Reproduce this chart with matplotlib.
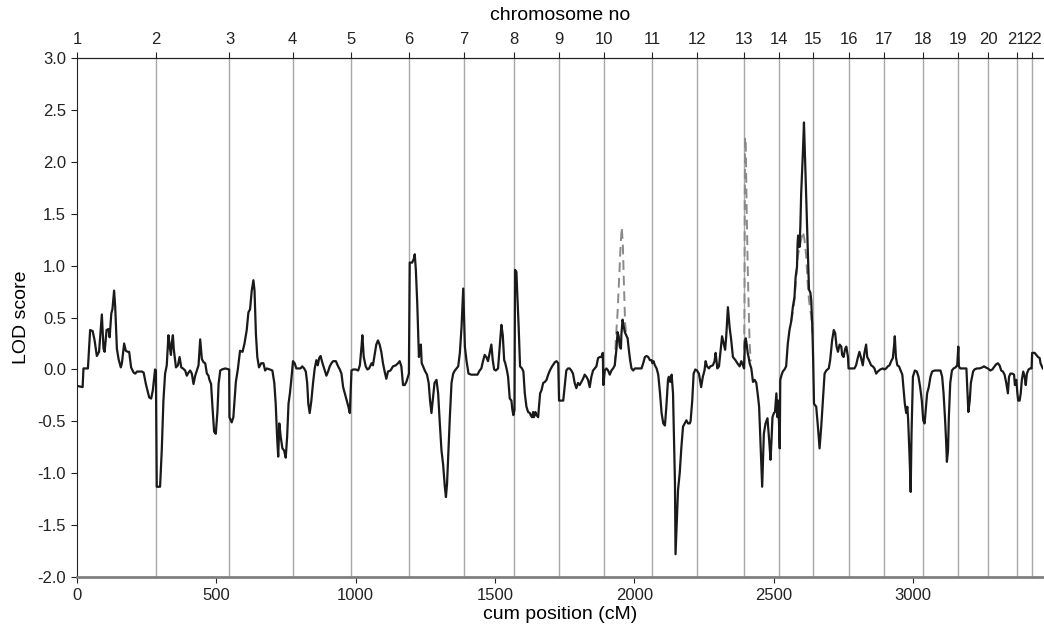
import matplotlib
matplotlib.use("Agg")
import matplotlib.pyplot as plt
import numpy as np
from matplotlib.ticker import FormatStrFormatter

plt.rcParams['font.family'] = ['Liberation Sans', 'DejaVu Sans']
plt.rcParams['axes.unicode_minus'] = False

chrom_labels = [str(i) for i in range(1, 23)]
chrom_starts = [0, 284, 547, 774, 982, 1192, 1388, 1569, 1729, 1890, 2064,
                2224, 2393, 2521, 2643, 2769, 2895, 3037, 3163, 3271, 3372, 3429]

pos_cm = [3, 20, 23, 39, 47, 56, 63, 71, 79, 89, 95, 99, 106, 113, 117, 123, 127, 133, 137, 143,
          149, 157, 161, 169, 175, 182, 187, 194, 203, 209, 215, 233, 239, 247, 259, 266, 272, 280, 283, 286,
          298, 304, 310, 316, 322, 328, 332, 337, 340, 344, 347, 355, 362, 368, 374, 380, 388, 394, 400, 406,
          412, 418, 424, 430, 436, 442, 448, 454, 460, 466, 472, 474, 481, 486, 492, 498, 504, 508, 514, 520,
          532, 546, 547, 555, 561, 570, 577, 585, 594, 601, 609, 615, 621, 627, 633, 637, 642, 647, 653, 661,
          669, 675, 681, 692,
          701, 708, 713, 718, 722, 726, 731, 737, 743, 749, 754, 759, 764, 769, 775, 781, 787, 802, 808, 815,
          821, 826, 830, 835, 841, 847, 853, 859, 864, 869, 874, 881, 889, 895, 901, 907, 913, 919, 929, 937,
          943, 949, 955, 961, 967, 974, 979, 985, 991, 1000, 1009, 1015, 1021, 1024, 1029, 1036, 1042, 1048,
          1057, 1062, 1068, 1074, 1080, 1086, 1092, 1098, 1104, 1110, 1116, 1125, 1134, 1144, 1152, 1158,
          1164, 1170, 1176, 1182, 1191, 1194, 1203, 1206, 1209, 1212, 1216, 1221, 1227, 1230, 1234, 1237,
          1242, 1248, 1256, 1262, 1267, 1272, 1278, 1283, 1290, 1296, 1302, 1308, 1314, 1320, 1324, 1328,
          1332, 1338, 1344, 1350, 1356, 1362, 1368, 1374, 1380, 1386, 1389, 1392, 1398, 1405,
          1415, 1427, 1437, 1445, 1451, 1457, 1463, 1469, 1475, 1481, 1487, 1492, 1497, 1503, 1511, 1517,
          1523, 1528, 1533, 1537, 1543, 1547, 1553, 1559, 1562, 1566, 1570, 1572, 1577, 1580, 1585, 1590,
          1597, 1602, 1607, 1613, 1619, 1625, 1628, 1633, 1637, 1640, 1645, 1649, 1655, 1657, 1662, 1667,
          1673, 1679, 1685, 1691, 1697, 1705, 1715, 1721, 1727, 1730, 1739, 1745, 1750, 1756, 1762, 1768,
          1774, 1780, 1786, 1792, 1798, 1804, 1810, 1816, 1822, 1828, 1834, 1840, 1846, 1852, 1858, 1864,
          1870, 1876, 1882, 1887, 1889, 1894, 1900, 1906, 1912, 1918, 1924, 1930, 1936, 1940, 1944, 1948,
          1952, 1954, 1958, 1961, 1966, 1971, 1976, 1980, 1985, 1990, 1996, 2002, 2014, 2026, 2032, 2038,
          2044, 2050, 2056, 2062, 2065, 2069, 2074, 2080, 2086, 2092, 2098, 2104, 2110,
          2115, 2121, 2124, 2129, 2134, 2139, 2142, 2146, 2148, 2152, 2157, 2163, 2169, 2175, 2181, 2187,
          2193, 2199, 2202, 2208, 2213, 2219, 2225, 2232, 2240, 2246, 2252, 2256, 2261, 2268, 2273, 2282,
          2288, 2292, 2298, 2304, 2310, 2315, 2321, 2326, 2330, 2336, 2342, 2348, 2354, 2363, 2370, 2378,
          2384, 2390, 2394, 2397, 2400, 2403, 2407, 2411, 2414, 2420, 2426, 2432, 2438, 2444, 2448, 2453,
          2459, 2465, 2471, 2478, 2484, 2489, 2492, 2496, 2501, 2505, 2510, 2514, 2517, 2522, 2524, 2529,
          2533, 2539, 2545, 2551, 2557, 2563, 2569, 2575, 2579, 2584, 2586, 2588, 2591, 2593, 2596, 2599,
          2603, 2605, 2609, 2612, 2617, 2623, 2627, 2632, 2635, 2639, 2642, 2645, 2653, 2659, 2665, 2671,
          2677, 2683, 2689, 2698, 2703, 2710, 2716, 2721, 2726, 2731, 2737, 2743, 2746, 2751, 2757, 2761,
          2767, 2769,
          2779, 2790, 2796, 2802, 2808, 2814, 2820, 2826, 2832, 2836, 2842, 2850, 2856, 2862, 2868, 2874,
          2883, 2892, 2898, 2904, 2910, 2916, 2922, 2928, 2932, 2935, 2939, 2944, 2950, 2956, 2962, 2966,
          2971, 2976, 2980, 2983, 2988, 2992, 2995, 3000, 3007, 3014, 3020, 3026, 3032, 3037, 3042, 3047,
          3051, 3057, 3063, 3069, 3078, 3090, 3099, 3105, 3110, 3115, 3119, 3122, 3126, 3129, 3134, 3140,
          3146, 3153, 3159, 3163, 3165, 3170, 3180, 3192, 3195, 3199, 3204, 3208, 3216, 3221, 3230, 3239,
          3249, 3255, 3261, 3269, 3278, 3285, 3293, 3299, 3305, 3311, 3317, 3323, 3329, 3335, 3341, 3345,
          3350, 3357, 3363, 3366, 3371, 3375, 3378, 3383, 3387, 3391, 3396, 3401, 3405, 3409, 3415, 3421,
          3426, 3428, 3437, 3443, 3449, 3455, 3458, 3466]

lod = [-0.16, -0.17, 0.01, 0.01, 0.38, 0.37, 0.28, 0.13, 0.17, 0.53, 0.20, 0.17, 0.38, 0.39, 0.31, 0.54, 0.58, 0.76, 0.60, 0.20,
       0.10, 0.02, 0.06, 0.25, 0.18, 0.17, 0.17, 0.02, -0.03, -0.04, -0.02, -0.02, -0.03, -0.14, -0.27, -0.28, -0.20, 0.00, -0.01, -1.13,
       -1.13, -0.78, -0.30, -0.04, 0.04, 0.33, 0.23, 0.14, 0.26, 0.33, 0.20, 0.02, 0.04, 0.12, 0.02, 0.01, -0.01, -0.06, -0.03, -0.01,
       -0.04, -0.14, -0.06, -0.01, 0.04, 0.29, 0.10, 0.07, 0.06, -0.04, -0.06, -0.09, -0.14, -0.36, -0.60, -0.62, -0.40, -0.14, -0.01, 0.00,
       0.01, 0.00, -0.46, -0.51, -0.46, -0.12, 0.00, 0.18, 0.17, 0.25, 0.38, 0.55, 0.58, 0.76, 0.86, 0.76, 0.34, 0.12, 0.02, 0.06,
       0.06, -0.01, 0.01, 0.00,
       -0.01, -0.13, -0.33, -0.65, -0.84, -0.52, -0.65, -0.76, -0.78, -0.85, -0.65, -0.33, -0.23, -0.10, 0.08, 0.06, 0.01, 0.01, 0.03, 0.01,
       -0.02, -0.13, -0.33, -0.42, -0.30, -0.13, 0.01, 0.09, 0.04, 0.11, 0.13, 0.06, -0.01, -0.06, -0.02, 0.03, 0.06, 0.08, 0.08, 0.03,
       0.00, -0.04, -0.17, -0.23, -0.29, -0.36, -0.42, -0.01, 0.00, 0.00, -0.01, 0.04, 0.22, 0.33, 0.12, 0.03, 0.00, 0.01,
       0.06, 0.04, 0.14, 0.24, 0.28, 0.24, 0.17, 0.06, -0.02, -0.09, -0.02, -0.01, 0.03, 0.04, 0.06, 0.08,
       0.03, -0.15, -0.15, -0.12, -0.04, 1.03, 1.03, 1.05, 1.07, 1.11, 0.96, 0.64, 0.12, 0.19, 0.24, 0.06,
       0.03, -0.01, -0.05, -0.13, -0.30, -0.42, -0.26, -0.13, -0.10, -0.23, -0.52, -0.78, -0.92, -1.13, -1.23, -1.10,
       -0.84, -0.46, -0.13, -0.04, -0.01, 0.01, 0.03, 0.16, 0.41, 0.78, 0.51, 0.22, 0.08, -0.04,
       -0.05, -0.05, -0.05, -0.01, 0.01, 0.08, 0.14, 0.12, 0.08, 0.16, 0.24, 0.09, 0.00, -0.01, 0.01, 0.22,
       0.43, 0.33, 0.09, 0.06, -0.01, -0.07, -0.28, -0.30, -0.38, -0.44, -0.39, 0.96, 0.94, 0.73, 0.41, 0.03,
       0.01, -0.02, -0.23, -0.36, -0.41, -0.42, -0.44, -0.46, -0.41, -0.46, -0.41, -0.44, -0.46, -0.39, -0.23, -0.20,
       -0.13, -0.12, -0.10, -0.05, -0.01, 0.03, 0.07, 0.08, 0.06, -0.30, -0.30, -0.30, -0.17, -0.01, 0.01, 0.01,
       -0.01, -0.04, -0.13, -0.18, -0.13, -0.15, -0.12, -0.09, -0.05, -0.07, -0.10, -0.17, -0.07, -0.01, 0.01, 0.03,
       0.11, 0.12, 0.12, 0.16, -0.15, -0.01, 0.01, -0.01, -0.05, -0.01, 0.01, 0.04, 0.20, 0.36, 0.32, 0.22,
       0.20, 0.35, 0.48, 0.43, 0.36, 0.33, 0.30, 0.20, 0.09, 0.01, -0.01, 0.01, 0.01, 0.01, 0.06, 0.12,
       0.13, 0.12, 0.09, 0.09, 0.06, 0.08, 0.04, 0.01, -0.05, -0.22, -0.42, -0.52, -0.54,
       -0.36, -0.10, -0.07, -0.12, -0.05, -0.23, -0.62, -1.10, -1.78, -1.50, -1.16, -1.00, -0.75, -0.55, -0.52, -0.49,
       -0.52, -0.52, -0.50, -0.30, -0.04, 0.00, -0.01, -0.04, -0.17, -0.07, -0.01, 0.08, 0.03, 0.01, 0.03, 0.04,
       0.08, 0.16, 0.01, 0.03, 0.19, 0.32, 0.25, 0.19, 0.32, 0.60, 0.41, 0.28, 0.12, 0.09, 0.06, 0.03,
       0.08, 0.04, 0.01, 0.25, 0.30, 0.25, 0.16, 0.11, 0.06, 0.01, -0.12, -0.10, -0.13, -0.26, -0.36, -0.71,
       -1.13, -0.62, -0.52, -0.47, -0.68, -0.87, -0.71, -0.46, -0.42, -0.41, -0.23, -0.46, -0.30, -0.76, -0.10, -0.05,
       -0.02, 0.00, 0.03, 0.25, 0.38, 0.46, 0.60, 0.70, 0.89, 0.99, 1.21, 1.29, 1.25, 1.18, 1.38, 1.70,
       1.95, 2.08, 2.38, 2.11, 1.63, 1.15, 0.77, 0.74, 0.67, 0.41, 0.09, -0.33, -0.36, -0.55, -0.76, -0.55,
       -0.30, -0.04, -0.01, 0.01, 0.09, 0.28, 0.38, 0.35, 0.22, 0.17, 0.24, 0.22, 0.14, 0.12, 0.20, 0.22,
       0.12, 0.01,
       0.01, 0.01, 0.04, 0.11, 0.17, 0.11, 0.04, 0.16, 0.24, 0.12, 0.09, 0.04, 0.03, 0.01, -0.04, -0.02,
       0.00, 0.01, 0.00, 0.01, 0.03, 0.04, 0.08, 0.11, 0.22, 0.32, 0.12, 0.04, 0.03, -0.01, -0.05, -0.17,
       -0.33, -0.42, -0.36, -0.49, -0.84, -1.18, -0.62, -0.07, -0.01, -0.02, -0.07, -0.17, -0.30, -0.49, -0.52, -0.36,
       -0.23, -0.17, -0.07, -0.02, -0.01, -0.01, -0.01, -0.07, -0.23, -0.46, -0.68, -0.89, -0.78, -0.46, -0.13, -0.01,
       0.01, 0.02, 0.04, 0.22, 0.03, 0.01, 0.01, 0.01, -0.17, -0.41, -0.30, -0.13, -0.02, 0.00, 0.01, 0.01,
       0.02, 0.03, 0.02, 0.01, -0.01, 0.00, 0.03, 0.05, 0.06, 0.04, -0.01, -0.02, -0.05, -0.13, -0.23, -0.07,
       -0.04, -0.04, -0.05, -0.15, -0.10, -0.23, -0.30, -0.30, -0.23, -0.10, -0.02, -0.07, -0.15, -0.04, 0.00, 0.01,
       0.01, 0.16, 0.16, 0.14, 0.12, 0.11, 0.06, 0.01]

# second (dashed grey) LOD profile, shown where it departs from the black one
dash_pos = [1930, 1934, 1940, 1946, 1951, 1955, 1959, 1963, 1967, 1971, np.nan,
            2390, 2394, 2395.5, 2396.5, 2397.5, 2400, 2403, 2407, 2411, 2414, 2418, np.nan,
            2563, 2569, 2575, 2581, 2587, 2593, 2599, 2605, 2611, 2617, 2623, 2627, 2632, 2635, 2639]
dash_lod = [0.04, 0.30, 0.55, 0.90, 1.20, 1.37, 1.20, 0.80, 0.45, 0.33, np.nan,
            0.04, 0.10, 0.60, 1.60, 2.24, 2.18, 1.60, 1.00, 0.55, 0.25, 0.08, np.nan,
            0.46, 0.55, 0.67, 0.89, 1.09, 1.18, 1.25, 1.33, 1.25, 1.09, 0.80, 0.67, 0.57, 0.52, 0.35]

x_ticks = [0, 500, 1000, 1500, 2000, 2500, 3000]
y_ticks = [-2.0, -1.5, -1.0, -0.5, 0.0, 0.5, 1.0, 1.5, 2.0, 2.5, 3.0]

fig = plt.figure(figsize=(10.44, 6.39), dpi=100)
ax = fig.add_axes([0.0738, 0.097, 0.925, 0.812])

for b in chrom_starts[1:]:
    ax.axvline(b, color='#a8a8a8', lw=1.0, zorder=1)

ax.plot(dash_pos, dash_lod, color='#8a8a8a', lw=1.4, ls=(0, (5, 3)), zorder=2)
ax.plot(pos_cm, lod, color='#1a1a1a', lw=1.6, zorder=3)

ax.set_xlim(0, 3466)
ax.set_ylim(-2, 3)
ax.set_yticks(y_ticks)
ax.yaxis.set_major_formatter(FormatStrFormatter('%.1f'))
ax.set_xticks(x_ticks)

ax.spines['right'].set_visible(False)
ax.spines['bottom'].set_color('#808080')
ax.spines['bottom'].set_linewidth(2.0)
ax.spines['left'].set_color('#222222')
ax.spines['left'].set_linewidth(0.8)
ax.spines['top'].set_color('#222222')
ax.spines['top'].set_linewidth(0.8)

ax.tick_params(axis='both', direction='out', length=4, width=0.8, labelsize=12, pad=4, colors='#222222')
ax.set_xlabel('cum position (cM)', fontsize=14, labelpad=2)
ax.set_ylabel('LOD score', fontsize=14, labelpad=5)

top = ax.secondary_xaxis('top')
top.set_xticks(chrom_starts)
top.set_xticklabels(chrom_labels)
top.tick_params(axis='x', direction='out', length=4, width=0.8, labelsize=12, pad=4, colors='#222222')
top.set_xlabel('chromosome no', fontsize=14, labelpad=9)

fig.savefig('out.png', dpi=100)
